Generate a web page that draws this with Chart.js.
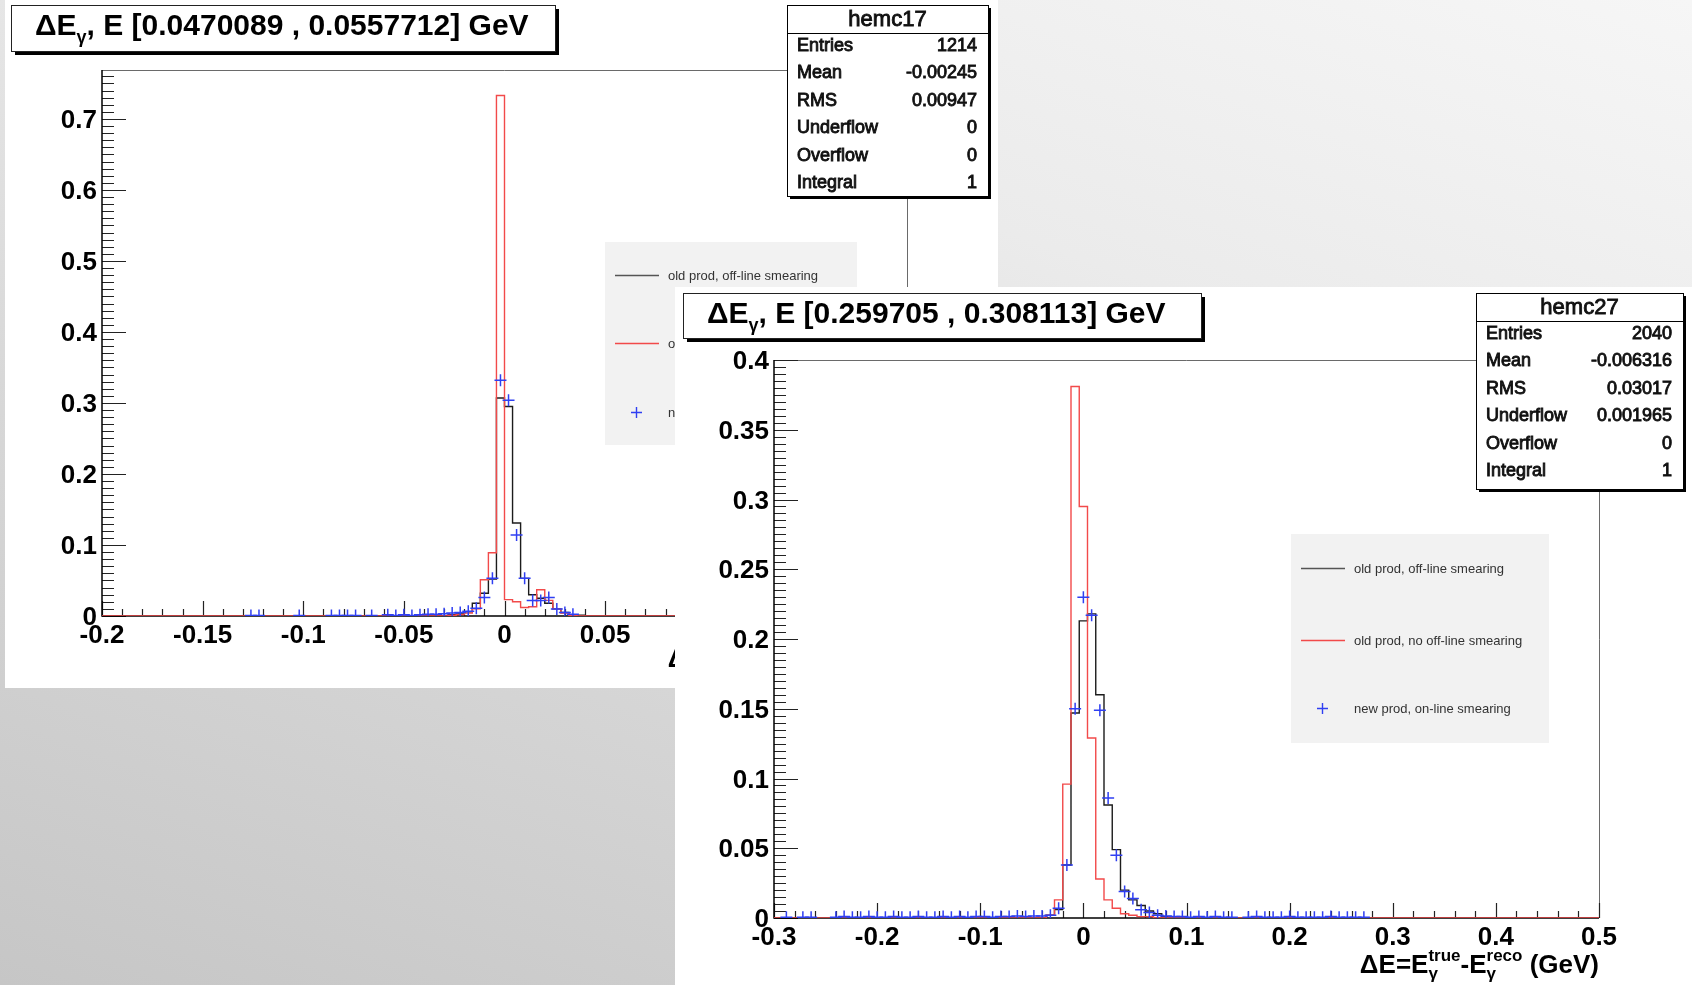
<!DOCTYPE html>
<html>
<head>
<meta charset="utf-8">
<script src="https://cdn.jsdelivr.net/npm/chart.js@4.4.0/dist/chart.umd.min.js"></script>
<style>
  html, body { margin: 0; padding: 0; }
  body {
    width: 1692px; height: 985px; overflow: hidden; position: relative;
    background: linear-gradient(200deg, #f6f6f6 0%, #ebebeb 30%, #d8d8d8 62%, #c6c6c6 100%);
  }
  canvas { position: absolute; background: #fff; }
  #lowE { left: 5px; top: 0; }
  #highE { left: 675px; top: 287px; }
</style>
</head>
<body>
<canvas id="lowE" width="993" height="688"></canvas>
<canvas id="highE" width="1017" height="698"></canvas>
<script>
// ---- E in [0.0470089, 0.0557712] GeV  (bin width 0.004, lower edges)
const binEdgesLow = [-0.028, -0.024, -0.020, -0.016, -0.012, -0.008, -0.004, 0.000, 0.004, 0.008, 0.012, 0.016, 0.020, 0.024, 0.028, 0.032, 0.036, 0.040];
const offlineSmearLow = [0.002, 0.003, 0.006, 0.018, 0.032, 0.052, 0.307, 0.295, 0.131, 0.053, 0.030, 0.025, 0.018, 0.010, 0.005, 0.002, 0.001, 0];
const noSmearLow = [0.001, 0.002, 0.004, 0.010, 0.051, 0.089, 0.733, 0.023, 0.020, 0.012, 0.013, 0.037, 0.022, 0.010, 0.004, 0.001, 0, 0];
const newCentersLow = [-0.126, -0.122, -0.102, -0.086, -0.082, -0.078, -0.074, -0.066, -0.058, -0.054, -0.050, -0.046, -0.042, -0.038, -0.034, -0.030, -0.026, -0.022, -0.018, -0.014, -0.010, -0.006, -0.002, 0.002, 0.006, 0.010, 0.014, 0.018, 0.022, 0.026, 0.030, 0.034];
const newLow = [0.0008, 0.0008, 0.0008, 0.0008, 0.0008, 0.0008, 0.0008, 0.0008, 0.0016, 0.0008, 0.0016, 0.0008, 0.0016, 0.0025, 0.0025, 0.0033, 0.0041, 0.0049, 0.0066, 0.011, 0.026, 0.053, 0.332, 0.304, 0.114, 0.053, 0.022, 0.022, 0.026, 0.010, 0.005, 0.0025];
const xTicksLow = [-0.2, -0.15, -0.1, -0.05, 0, 0.05, 0.1, 0.15, 0.2];
const yTicksLow = [0, 0.1, 0.2, 0.3, 0.4, 0.5, 0.6, 0.7];
const statsLow = [["Entries", "1214"], ["Mean", "-0.00245"], ["RMS", "0.00947"], ["Underflow", "0"], ["Overflow", "0"], ["Integral", "1"]];

// ---- E in [0.259705, 0.308113] GeV  (bin width 0.008, lower edges)
const binEdgesHigh = [-0.036, -0.028, -0.020, -0.012, -0.004, 0.004, 0.012, 0.020, 0.028, 0.036, 0.044, 0.052, 0.060, 0.068, 0.076, 0.084];
const offlineSmearHigh = [0.002, 0.006, 0.038, 0.147, 0.213, 0.218, 0.160, 0.081, 0.049, 0.020, 0.013, 0.009, 0.005, 0.003, 0.001, 0];
const noSmearHigh = [0.002, 0.013, 0.096, 0.381, 0.295, 0.129, 0.028, 0.013, 0.007, 0.003, 0.002, 0.001, 0.001, 0, 0, 0];
const newCentersHigh = [-0.288, -0.272, -0.264, -0.240, -0.232, -0.224, -0.216, -0.208, -0.200, -0.192, -0.184, -0.176, -0.168, -0.160, -0.152, -0.144, -0.136, -0.128, -0.120, -0.112, -0.104, -0.096, -0.088, -0.080, -0.072, -0.064, -0.056, -0.048, -0.040,
  -0.032, -0.024, -0.016, -0.008, 0.000, 0.008, 0.016, 0.024, 0.032, 0.040, 0.048, 0.056, 0.064, 0.072,
  0.080, 0.088, 0.096, 0.104, 0.112, 0.120, 0.128, 0.136, 0.144, 0.160, 0.168, 0.176, 0.184, 0.192, 0.200, 0.208, 0.216, 0.224, 0.232, 0.240, 0.248, 0.256, 0.264, 0.272];
const newHigh = [0.0005, 0.0005, 0.0005, 0.0005, 0.001, 0.0005, 0.0005, 0.001, 0.0005, 0.0005, 0.001, 0.0005, 0.0005, 0.001, 0.0005, 0.0005, 0.001, 0.0005, 0.001, 0.0005, 0.001, 0.001, 0.0005, 0.001, 0.001, 0.0015, 0.001, 0.0015, 0.0015,
  0.002, 0.007, 0.038, 0.150, 0.230, 0.217, 0.149, 0.086, 0.045, 0.019, 0.014, 0.006, 0.004, 0.002,
  0.0015, 0.001, 0.001, 0.0005, 0.001, 0.0005, 0.001, 0.0005, 0.0005, 0.0005, 0.001, 0.0005, 0.0005, 0.0005, 0.001, 0.0005, 0.0005, 0.0005, 0.0005, 0.001, 0.0005, 0.0005, 0.0005, 0.0005];
const xTicksHigh = [-0.3, -0.2, -0.1, 0, 0.1, 0.2, 0.3, 0.4, 0.5];
const yTicksHigh = [0, 0.05, 0.1, 0.15, 0.2, 0.25, 0.3, 0.35, 0.4];
const statsHigh = [["Entries", "2040"], ["Mean", "-0.006316"], ["RMS", "0.03017"], ["Underflow", "0.001965"], ["Overflow", "0"], ["Integral", "1"]];

const legendLabels = ["old prod, off-line smearing", "old prod, no off-line smearing", "new prod, on-line smearing"];

const BLACK = "#1c1c1c", RED = "#f24a4a", BLUE = "#2f3ff2";
const FACE = '"Liberation Sans", Arial, sans-serif';

function fontOf(s) { return (s.b === false ? "" : "bold ") + s.s + "px " + FACE; }

// draws mixed-size text (sub/superscripts); "hold" segments don't advance the pen
function drawRich(ctx, segs, x, y, align) {
  const widths = segs.map(s => { ctx.font = fontOf(s); return ctx.measureText(s.t).width; });
  let total = 0, held = 0;
  segs.forEach((s, i) => {
    if (s.hold) held = Math.max(held, widths[i]);
    else { total += Math.max(widths[i], held); held = 0; }
  });
  let cx = align === "right" ? x - total : x;
  held = 0;
  ctx.textAlign = "left";
  ctx.textBaseline = "alphabetic";
  segs.forEach((s, i) => {
    ctx.font = fontOf(s);
    ctx.fillText(s.t, cx, y + (s.dy || 0));
    if (s.hold) held = Math.max(held, widths[i]);
    else { cx += Math.max(widths[i], held); held = 0; }
  });
}

function fmt(v) { return String(+v.toFixed(3)); }

function eachTick(step, lo, hi, fn) {
  const n0 = Math.ceil(lo / step - 1e-6), n1 = Math.floor(hi / step + 1e-6);
  for (let i = n0; i <= n1; i++) fn(i * step);
}

function rootDecor(cfg) {
  return {
    id: "rootDecor",
    beforeDatasetsDraw(chart) {
      const { ctx, chartArea: a, scales: { x, y } } = chart;
      ctx.save();
      // frame
      ctx.strokeStyle = "#6a6a6a";
      ctx.lineWidth = 1;
      ctx.beginPath();
      ctx.moveTo(a.left, a.top + 0.5); ctx.lineTo(a.right + 0.5, a.top + 0.5); ctx.lineTo(a.right + 0.5, a.bottom);
      ctx.stroke();
      // ticks
      ctx.strokeStyle = "#222";
      ctx.lineWidth = 1.2;
      ctx.beginPath();
      eachTick(cfg.yMinor, y.min, y.max, v => {
        const py = Math.round(y.getPixelForValue(v)) + 0.5;
        const major = Math.abs(v / cfg.yMajor - Math.round(v / cfg.yMajor)) < 1e-6;
        ctx.moveTo(a.left, py); ctx.lineTo(a.left + (major ? 24 : 12), py);
      });
      eachTick(cfg.xMinor, x.min, x.max, v => {
        const px = Math.round(x.getPixelForValue(v)) + 0.5;
        const major = Math.abs(v / cfg.xMajor - Math.round(v / cfg.xMajor)) < 1e-6;
        ctx.moveTo(px, a.bottom); ctx.lineTo(px, a.bottom - (major ? 15 : 7));
      });
      ctx.stroke();
      // axes
      ctx.strokeStyle = "#000";
      ctx.lineWidth = 1.5;
      ctx.beginPath();
      ctx.moveTo(a.left, a.top); ctx.lineTo(a.left, a.bottom); ctx.lineTo(a.right, a.bottom);
      ctx.stroke();
      ctx.restore();
    },
    afterDatasetsDraw(chart) {
      const { ctx, chartArea: a, scales: { x, y } } = chart;
      ctx.save();
      ctx.fillStyle = "#000";
      ctx.font = "bold 26px " + FACE;
      ctx.textAlign = "right";
      ctx.textBaseline = "alphabetic";
      cfg.yTicks.forEach(v => ctx.fillText(fmt(v), a.left - 5, y.getPixelForValue(v) + 9));
      ctx.textAlign = "center";
      cfg.xTicks.forEach(v => ctx.fillText(fmt(v), x.getPixelForValue(v), a.bottom + 27));

      // axis title
      drawRich(ctx, [
        { t: "ΔE=E", s: 26 }, { t: "γ", s: 17, dy: 6, hold: true }, { t: "true", s: 17, dy: -12 },
        { t: "-E", s: 26 }, { t: "γ", s: 17, dy: 6, hold: true }, { t: "reco", s: 17, dy: -12 },
        { t: " (GeV)", s: 26 }
      ], a.right, a.bottom + cfg.xTitleDy, "right");

      // title pave
      const t = cfg.titleBox;
      ctx.fillStyle = "#000";
      ctx.fillRect(t.x + 4, t.y + 4, t.w, t.h);
      ctx.fillStyle = "#fff";
      ctx.fillRect(t.x, t.y, t.w, t.h);
      ctx.strokeStyle = "#222"; ctx.lineWidth = 1;
      ctx.strokeRect(t.x + 0.5, t.y + 0.5, t.w, t.h);
      ctx.fillStyle = "#000";
      drawRich(ctx, [{ t: "ΔE", s: 30 }, { t: "γ", s: 18, dy: 8 }, { t: ", E " + cfg.range + " GeV", s: 30 }], t.x + 24, t.y + 30);

      // legend
      const l = cfg.legendBox;
      ctx.fillStyle = "#f2f2f2";
      ctx.fillRect(l.x, l.y, l.w, l.h);
      ctx.font = "13px " + FACE;
      ctx.textAlign = "left";
      ctx.textBaseline = "middle";
      [BLACK, RED, BLUE].forEach((c, i) => {
        const ry = l.y + l.rows[i];
        ctx.strokeStyle = i === 0 ? "#555" : c;
        ctx.lineWidth = 1.4;
        ctx.beginPath();
        if (i < 2) { ctx.moveTo(l.x + 10, ry + 0.5); ctx.lineTo(l.x + 54, ry + 0.5); }
        else { ctx.moveTo(l.x + 26, ry + 0.5); ctx.lineTo(l.x + 37, ry + 0.5); ctx.moveTo(l.x + 31.5, ry - 5); ctx.lineTo(l.x + 31.5, ry + 6); }
        ctx.stroke();
        ctx.fillStyle = "#333";
        ctx.fillText(legendLabels[i], l.x + 63, ry + 1);
      });

      // stats pave
      const st = cfg.statsBox;
      ctx.fillStyle = "#000";
      ctx.fillRect(st.x + 3, st.y + 3, st.w, st.h);
      ctx.fillStyle = "#fff";
      ctx.fillRect(st.x, st.y, st.w, st.h);
      ctx.strokeStyle = "#000"; ctx.lineWidth = 1;
      ctx.strokeRect(st.x + 0.5, st.y + 0.5, st.w, st.h);
      ctx.beginPath(); ctx.moveTo(st.x, st.y + 28.5); ctx.lineTo(st.x + st.w, st.y + 28.5); ctx.stroke();
      ctx.fillStyle = "#111";
      ctx.strokeStyle = "#111"; ctx.lineWidth = 0.9;
      ctx.textBaseline = "middle";
      ctx.textAlign = "center";
      ctx.font = "22px " + FACE;
      ctx.fillText(cfg.statsName, st.x + st.w / 2, st.y + 15);
      ctx.strokeText(cfg.statsName, st.x + st.w / 2, st.y + 15);
      ctx.font = "18px " + FACE;
      cfg.stats.forEach((r, i) => {
        const ry = st.y + 41 + i * 27.4;
        ctx.textAlign = "left";
        ctx.fillText(r[0], st.x + 10, ry); ctx.strokeText(r[0], st.x + 10, ry);
        ctx.textAlign = "right";
        ctx.fillText(r[1], st.x + st.w - 11, ry); ctx.strokeText(r[1], st.x + st.w - 11, ry);
      });
      ctx.restore();
    }
  };
}

function histPoints(edges, vals, xr) {
  return [{ x: xr[0], y: 0 }].concat(edges.map((e, i) => ({ x: e, y: vals[i] })), [{ x: xr[1], y: 0 }]);
}

function makeChart(id, cfg) {
  return new Chart(document.getElementById(id), {
    type: "line",
    data: {
      datasets: [
        {
          label: legendLabels[2],
          data: cfg.newX.map((c, i) => ({ x: c, y: cfg.newY[i] })),
          showLine: false,
          pointStyle: "cross",
          pointRadius: 6,
          pointBorderColor: BLUE,
          pointBorderWidth: 1.5,
          order: 0
        },
        {
          label: legendLabels[1],
          data: histPoints(cfg.edges, cfg.red, cfg.xr),
          borderColor: RED, borderWidth: 1.4, stepped: true, pointRadius: 0, order: 1
        },
        {
          label: legendLabels[0],
          data: histPoints(cfg.edges, cfg.black, cfg.xr),
          borderColor: BLACK, borderWidth: 1.4, stepped: true, pointRadius: 0, order: 2
        }
      ]
    },
    options: {
      responsive: false,
      animation: false,
      events: [],
      layout: { padding: cfg.pad },
      scales: {
        x: { type: "linear", min: cfg.xr[0], max: cfg.xr[1], display: false },
        y: { type: "linear", min: 0, max: cfg.yMax, display: false }
      },
      plugins: { legend: { display: false }, tooltip: { enabled: false } }
    },
    plugins: [rootDecor(cfg)]
  });
}

makeChart("lowE", {
  edges: binEdgesLow, black: offlineSmearLow, red: noSmearLow, newX: newCentersLow, newY: newLow,
  xr: [-0.2, 0.2], yMax: 0.769,
  xTicks: xTicksLow, yTicks: yTicksLow, xMajor: 0.05, xMinor: 0.01, yMajor: 0.1, yMinor: 0.01,
  pad: { left: 97, right: 91, top: 70, bottom: 72 },
  xTitleDy: 51,
  range: "[0.0470089 , 0.0557712]",
  titleBox: { x: 6, y: 5, w: 544, h: 46 },
  legendBox: { x: 600, y: 242, w: 252, h: 203, rows: [33, 101, 170] },
  statsBox: { x: 782, y: 5, w: 201, h: 191 },
  statsName: "hemc17", stats: statsLow
});

makeChart("highE", {
  edges: binEdgesHigh, black: offlineSmearHigh, red: noSmearHigh, newX: newCentersHigh, newY: newHigh,
  xr: [-0.3, 0.5], yMax: 0.4,
  xTicks: xTicksHigh, yTicks: yTicksHigh, xMajor: 0.1, xMinor: 0.02, yMajor: 0.05, yMinor: 0.005,
  pad: { left: 99, right: 93, top: 73, bottom: 67 },
  xTitleDy: 55,
  range: "[0.259705 , 0.308113]",
  titleBox: { x: 8, y: 6, w: 518, h: 45 },
  legendBox: { x: 616, y: 247, w: 258, h: 209, rows: [34, 106, 174] },
  statsBox: { x: 801, y: 6, w: 207, h: 196 },
  statsName: "hemc27", stats: statsHigh
});
</script>
</body>
</html>
